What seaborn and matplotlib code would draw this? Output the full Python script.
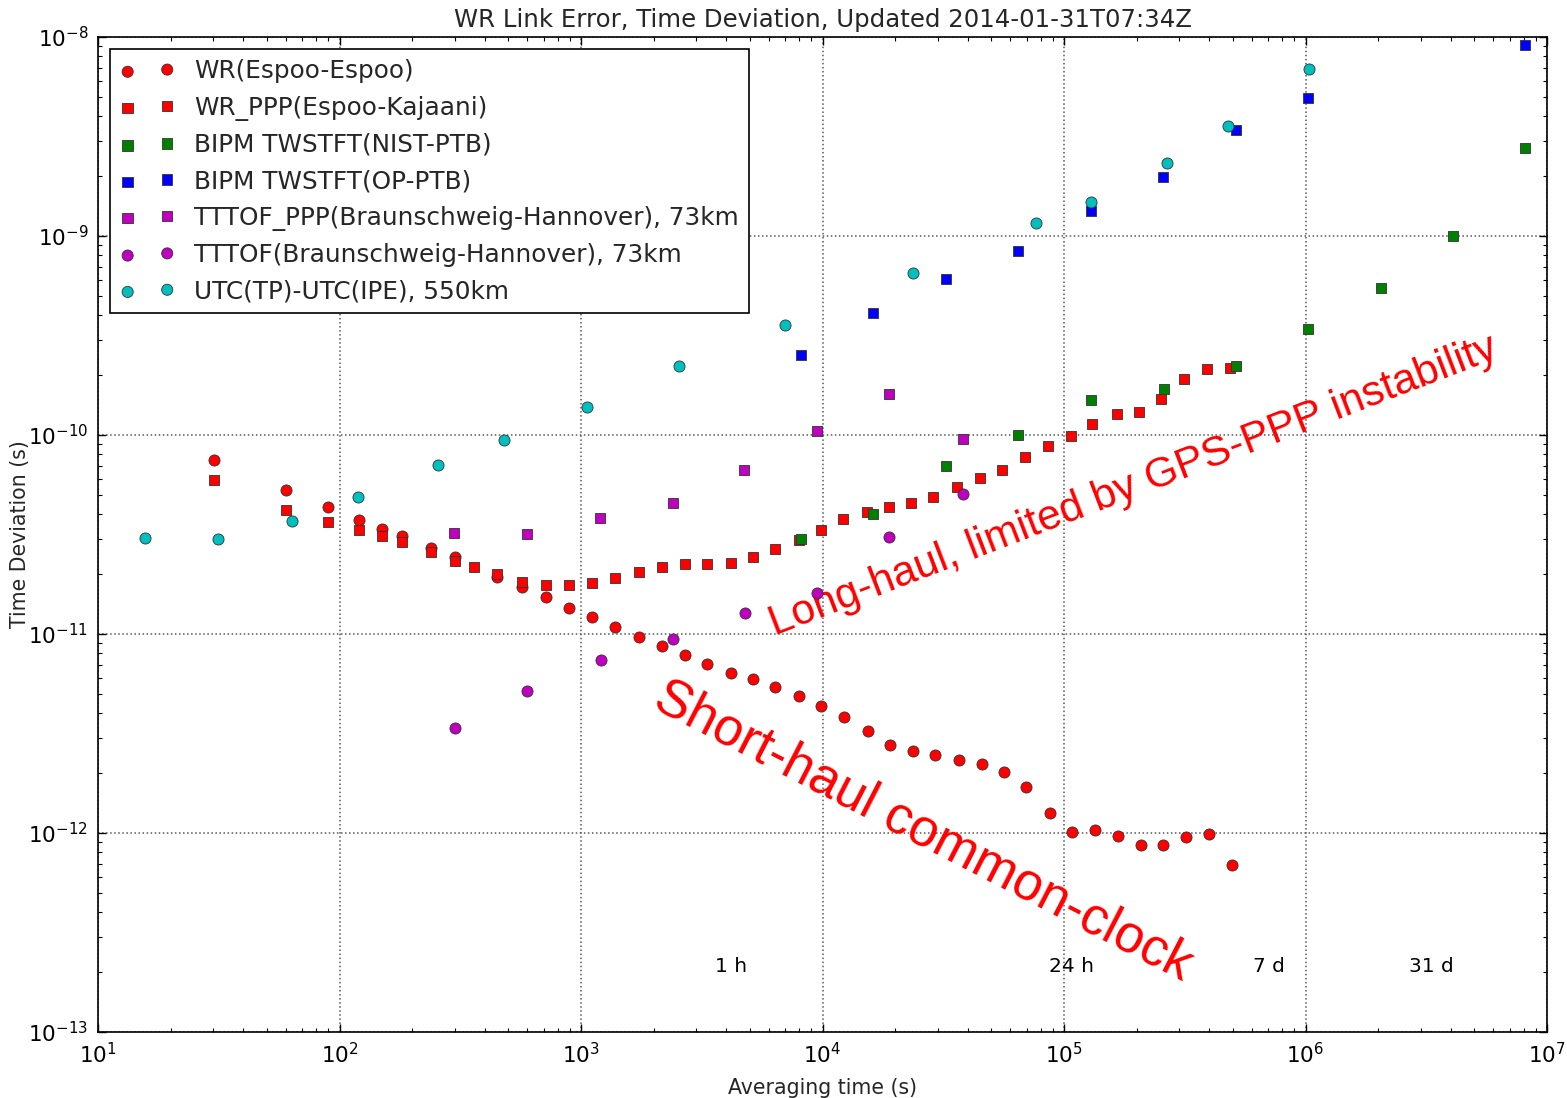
import matplotlib
matplotlib.use("Agg")
import matplotlib.pyplot as plt
import seaborn as sns
import numpy as np

# ---------------- data ----------------
wr_tau = [30.2, 60.1, 89.8, 121, 150, 181, 240, 301, 449, 570, 714, 896, 1112, 1377,
          1746, 2166, 2686, 3318, 4160, 5160, 6370, 8010, 9890, 12320, 15420, 19020,
          23670, 29370, 36740, 45590, 56230, 69780, 87660, 108200, 134200, 167800,
          208000, 258000, 318500, 398500, 496000]
wr_tdev = [7.49e-11, 5.32e-11, 4.35e-11, 3.76e-11, 3.37e-11, 3.10e-11, 2.72e-11, 2.43e-11,
           1.93e-11, 1.72e-11, 1.53e-11, 1.35e-11, 1.22e-11, 1.09e-11, 9.7e-12, 8.68e-12,
           7.84e-12, 7.1e-12, 6.4e-12, 5.97e-12, 5.42e-12, 4.88e-12, 4.34e-12, 3.81e-12,
           3.26e-12, 2.78e-12, 2.59e-12, 2.48e-12, 2.34e-12, 2.21e-12, 2.03e-12, 1.70e-12,
           1.26e-12, 1.01e-12, 1.03e-12, 9.7e-13, 8.67e-13, 8.67e-13, 9.6e-13, 9.93e-13,
           6.89e-13]

ppp_tau = [30.2, 60.1, 89.8, 121, 150, 181, 240, 301, 360, 449, 570, 714, 896, 1112, 1377,
           1746, 2166, 2686, 3318, 4160, 5160, 6370, 8010, 9890, 12140, 15250, 18790,
           23330, 28770, 36140, 44870, 55330, 68700, 85800, 106400, 131200, 165100,
           204000, 252500, 313300, 391000, 485300]
ppp_tdev = [5.94e-11, 4.22e-11, 3.66e-11, 3.35e-11, 3.12e-11, 2.89e-11, 2.58e-11, 2.34e-11,
            2.17e-11, 2.0e-11, 1.83e-11, 1.76e-11, 1.76e-11, 1.80e-11, 1.92e-11, 2.05e-11,
            2.17e-11, 2.24e-11, 2.24e-11, 2.28e-11, 2.44e-11, 2.66e-11, 2.98e-11, 3.35e-11,
            3.77e-11, 4.10e-11, 4.35e-11, 4.54e-11, 4.88e-11, 5.48e-11, 6.06e-11, 6.70e-11,
            7.73e-11, 8.81e-11, 9.89e-11, 1.14e-10, 1.28e-10, 1.30e-10, 1.52e-10, 1.91e-10,
            2.15e-10, 2.17e-10]

nist_tau = [8110, 16150, 32570, 64700, 128800, 258700, 514000, 1.02e6, 2.06e6, 4.10e6, 8.13e6]
nist_tdev = [2.99e-11, 4.0e-11, 6.98e-11, 1.0e-10, 1.50e-10, 1.71e-10, 2.21e-10, 3.41e-10,
             5.48e-10, 1.0e-9, 2.78e-9]

op_tau = [8150, 16150, 32510, 64700, 129000, 258000, 514000, 1.02e6, 8.13e6]
op_tdev = [2.51e-10, 4.10e-10, 6.05e-10, 8.44e-10, 1.33e-9, 1.97e-9, 3.42e-9, 4.91e-9, 9.08e-9]

tttof_ppp_tau = [297, 599, 1194, 2403, 4730, 9510, 18900, 38000]
tttof_ppp_tdev = [3.22e-11, 3.17e-11, 3.81e-11, 4.54e-11, 6.70e-11, 1.05e-10, 1.61e-10, 9.55e-11]

tttof_tau = [300, 599, 1208, 2403, 4772, 9510, 18900, 38000]
tttof_tdev = [3.36e-12, 5.18e-12, 7.40e-12, 9.48e-12, 1.28e-11, 1.60e-11, 3.07e-11, 5.08e-11]

utc_tau = [15.6, 31.3, 63.7, 119.5, 255, 479, 1059, 2550, 6970, 23600, 76400, 129000,
           268000, 476000, 1.03e6]
utc_tdev = [3.03e-11, 2.99e-11, 3.71e-11, 4.87e-11, 7.10e-11, 9.44e-11, 1.39e-10, 2.21e-10,
            3.56e-10, 6.50e-10, 1.16e-9, 1.48e-9, 2.34e-9, 3.56e-9, 6.88e-9]

labels = ["WR(Espoo-Espoo)", "WR_PPP(Espoo-Kajaani)", "BIPM TWSTFT(NIST-PTB)",
          "BIPM TWSTFT(OP-PTB)", "TTTOF_PPP(Braunschweig-Hannover), 73km",
          "TTTOF(Braunschweig-Hannover), 73km", "UTC(TP)-UTC(IPE), 550km"]

time_mark_tau = [3600, 86400, 604800, 2678400]
time_mark_text = ["1 h", "24 h", "7 d", "31 d"]

# ---------------- style ----------------
sns.set_style("white")
plt.rcParams.update({
    "font.family": ["DejaVu Sans"],
    "axes.unicode_minus": False,
    "xtick.direction": "in", "ytick.direction": "in",
    "xtick.top": True, "ytick.right": True,
    "xtick.bottom": True, "ytick.left": True,
    "xtick.major.size": 6, "ytick.major.size": 6,
    "xtick.minor.size": 3, "ytick.minor.size": 3,
    "xtick.major.width": 1, "ytick.major.width": 1,
    "xtick.minor.width": 0.8, "ytick.minor.width": 0.8,
    "xtick.color": "k", "ytick.color": "k",
    "axes.edgecolor": "k", "axes.linewidth": 1.2,
    "xtick.minor.visible": True, "ytick.minor.visible": True,
})

fig = plt.figure(figsize=(15.67, 10.98), dpi=100)
ax = fig.add_axes([98 / 1567, 1 - 1032 / 1098, (1547 - 98) / 1567, (1032 - 37) / 1098])

series = [
    (wr_tau, wr_tdev, "o", "#ff0000"),
    (ppp_tau, ppp_tdev, "s", "#ff0000"),
    (nist_tau, nist_tdev, "s", "#008000"),
    (op_tau, op_tdev, "s", "#0000ff"),
    (tttof_ppp_tau, tttof_ppp_tdev, "s", "#bf00bf"),
    (tttof_tau, tttof_tdev, "o", "#bf00bf"),
    (utc_tau, utc_tdev, "o", "#00bfbf"),
]

for i, ((tx, ty, mk, col), lab) in enumerate(zip(series, labels)):
    size = 64 if mk == "o" else 56
    sns.scatterplot(x=tx, y=ty, marker=mk, color=col, s=size, edgecolor="#333333",
                    linewidth=0.6, label=lab, ax=ax, zorder=3 + i * 0.01)

ax.set_xscale("log")
ax.set_yscale("log")
ax.set_xlim(10, 1e7)
ax.set_ylim(1e-13, 1e-8)

ax.grid(True, which="major", linestyle=":", color="0.35", linewidth=1.1, zorder=0)
ax.grid(False, which="minor")
ax.tick_params(labelsize=15.5, pad=7)
ax.tick_params(which="both", top=True, right=True)

ax.set_xlabel("Averaging time (s)", fontsize=14.8, labelpad=8)
ax.set_ylabel("Time Deviation (s)", fontsize=14.8)
ax.yaxis.set_label_coords(-0.047, 0.5)
ax.set_title("WR Link Error, Time Deviation, Updated 2014-01-31T07:34Z", fontsize=17.6, pad=7)

for tx, txt in zip(time_mark_tau, time_mark_text):
    ax.text(tx, 2e-13, txt, ha="left", va="baseline", fontsize=14.5, color="k")

ax.text(6350, 9.85e-12, "Long-haul, limited by GPS-PPP instability", color="#ff0000",
        fontsize=30.5, family="Liberation Sans", rotation=21, rotation_mode="anchor",
        ha="left", va="baseline")
ax.text(1955, 4.3e-12, "Short-haul common-clock", color="#ff0000",
        fontsize=38, family="Liberation Sans", rotation=-27.3, rotation_mode="anchor",
        ha="left", va="baseline")

leg = ax.legend(loc="upper left", scatterpoints=2, fontsize=17.8, frameon=True,
                fancybox=False, framealpha=1, edgecolor="k", handlelength=2.2,
                borderaxespad=0.5, labelspacing=0.5, handletextpad=0.8)
leg.get_frame().set_linewidth(1.2)

fig.savefig("out.png", dpi=100)
